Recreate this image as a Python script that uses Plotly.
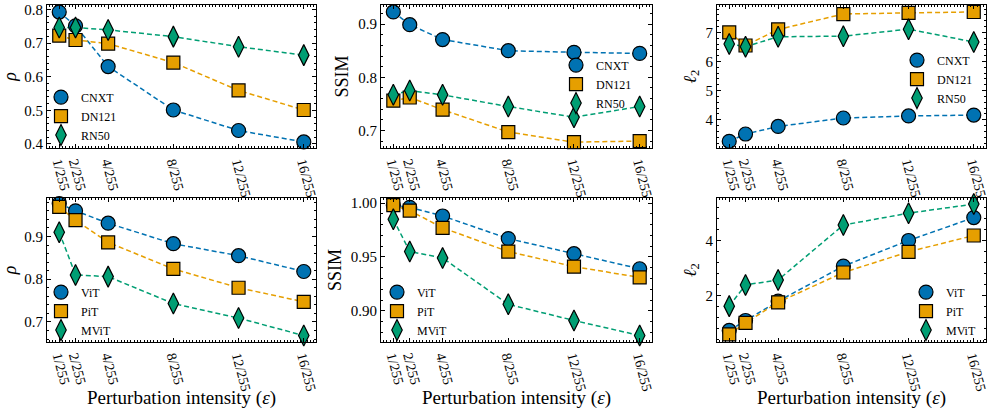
import plotly.graph_objects as go

# ---------------- data ----------------
eps = [1, 2, 4, 8, 12, 16]
eps_labels = ["1/255", "2/255", "4/255", "8/255", "12/255", "16/255"]

cnn_names = ["CNXT", "DN121", "RN50"]
vit_names = ["ViT", "PiT", "MViT"]

rho_cnxt = [0.792, 0.751, 0.630, 0.501, 0.440, 0.406]
rho_dn121 = [0.722, 0.709, 0.698, 0.642, 0.559, 0.501]
rho_rn50 = [0.746, 0.746, 0.739, 0.719, 0.689, 0.664]

ssim_cnxt = [0.923, 0.899, 0.871, 0.850, 0.847, 0.845]
ssim_dn121 = [0.756, 0.762, 0.739, 0.697, 0.678, 0.680]
ssim_rn50 = [0.767, 0.775, 0.767, 0.745, 0.725, 0.745]

l2_cnxt = [3.26, 3.51, 3.77, 4.06, 4.13, 4.16]
l2_dn121 = [7.00, 6.55, 7.10, 7.63, 7.67, 7.70]
l2_rn50 = [6.60, 6.51, 6.85, 6.87, 7.11, 6.67]

rho_vit = [0.977, 0.960, 0.931, 0.883, 0.855, 0.818]
rho_pit = [0.969, 0.938, 0.886, 0.824, 0.780, 0.747]
rho_mvit = [0.910, 0.810, 0.806, 0.743, 0.709, 0.668]

ssim_vit = [0.998, 0.996, 0.988, 0.967, 0.953, 0.939]
ssim_pit = [0.998, 0.993, 0.977, 0.955, 0.941, 0.931]
ssim_mvit = [0.985, 0.955, 0.949, 0.906, 0.891, 0.877]

l2_vit = [0.74, 1.10, 1.80, 3.07, 4.00, 4.83]
l2_pit = [0.60, 1.01, 1.76, 2.84, 3.59, 4.18]
l2_mvit = [1.62, 2.39, 2.57, 4.56, 4.99, 5.32]

# ---------------- style ----------------
W, H = 992, 417
colors = ["#0072B2", "#E69F00", "#009E73"]
symbols = ["circle", "square", "diamond-tall"]
msizes = [14, 13, 15]
FONT = "Liberation Serif, DejaVu Serif, serif"

col_px = [(47, 316), (381, 652), (717, 986)]
row_px = [(5, 148), (198, 342)]

panels = [
    # row, col, names, series, ytitle, yrange, ytickvals, ytickfmt, yminor, legend(marker_x, middle_row_y)
    (0, 0, cnn_names, [rho_cnxt, rho_dn121, rho_rn50], "<i>ρ</i>", [0.388, 0.813],
     [0.4, 0.5, 0.6, 0.7, 0.8], ".1f", 0.02, (61, 114)),
    (0, 1, cnn_names, [ssim_cnxt, ssim_dn121, ssim_rn50], "SSIM", [0.667, 0.936],
     [0.7, 0.8, 0.9], ".1f", 0.02, (576, 82)),
    (0, 2, cnn_names, [l2_cnxt, l2_dn121, l2_rn50], "<i>ℓ</i><sub>2</sub>", [3.03, 7.94],
     [4, 5, 6, 7], "d", 0.2, (917, 77)),
    (1, 0, vit_names, [rho_vit, rho_pit, rho_mvit], "<i>ρ</i>", [0.653, 0.990],
     [0.7, 0.8, 0.9], ".1f", 0.02, (61, 309)),
    (1, 1, vit_names, [ssim_vit, ssim_pit, ssim_mvit], "SSIM", [0.871, 1.0047],
     [0.90, 0.95, 1.00], ".2f", 0.01, (397, 309)),
    (1, 2, vit_names, [l2_vit, l2_pit, l2_mvit], "<i>ℓ</i><sub>2</sub>", [0.32, 5.54],
     [2, 4], "d", 0.4, (926, 309)),
]

LEG_FONT = 12
LEG_ROW = 1.3 * LEG_FONT + 3          # plotly legend row height (approx.)
LEG_TOP_OFFSET = 14 - 0.5 * (21 - LEG_ROW)  # legend top -> first row centre

fig = go.Figure()
layout = dict(
    template="none",
    width=W, height=H,
    margin=dict(l=0, r=0, t=0, b=0, pad=0),
    paper_bgcolor="white", plot_bgcolor="white",
    font=dict(family=FONT, size=14, color="black"),
    showlegend=True,
    annotations=[],
)

for i, (r, c, names, series, ytitle, yrange, ytv, yfmt, yminor, leg) in enumerate(panels):
    n = i + 1
    xa = "x" if n == 1 else f"x{n}"
    ya = "y" if n == 1 else f"y{n}"
    lg = "legend" if n == 1 else f"legend{n}"
    x0, x1 = col_px[c]
    y0, y1 = row_px[r]
    for k, (name, vals) in enumerate(zip(names, series)):
        fig.add_trace(go.Scatter(
            x=eps, y=vals, mode="lines", xaxis=xa, yaxis=ya,
            line=dict(color=colors[k], width=1.5, dash="5px,3px"),
            showlegend=False, hoverinfo="skip", cliponaxis=False))
    for k, (name, vals) in enumerate(zip(names, series)):
        fig.add_trace(go.Scatter(
            x=eps, y=vals, mode="markers", name=name, xaxis=xa, yaxis=ya,
            legend=lg, cliponaxis=False,
            marker=dict(color=colors[k], symbol=symbols[k], size=msizes[k],
                        line=dict(color="black", width=1.2))))
    axis_common = dict(showline=True, linecolor="black", linewidth=1, mirror="allticks",
                       ticks="inside", ticklen=4, tickwidth=1, tickcolor="black",
                       showgrid=False, zeroline=False, automargin=False,
                       tickfont=dict(family=FONT, size=14, color="black"))
    layout["xaxis" if n == 1 else f"xaxis{n}"] = dict(
        axis_common, domain=[x0 / W, x1 / W], anchor=ya, range=[0.25, 16.75],
        tickmode="array", tickvals=eps, ticktext=eps_labels, tickangle=75,
        minor=dict(ticks="inside", ticklen=2, tickcolor="black", dtick=0.2, tick0=0))
    layout["yaxis" if n == 1 else f"yaxis{n}"] = dict(
        axis_common, domain=[1 - y1 / H, 1 - y0 / H], anchor=xa, range=yrange,
        tickmode="array", tickvals=ytv, tickformat=yfmt,
        tickfont=dict(family=FONT, size=15, color="black"),
        minor=dict(ticks="inside", ticklen=2, tickcolor="black", dtick=yminor, tick0=0),
        title=dict(text=ytitle, font=dict(family=FONT, size=18), standoff=4))
    mx, my = leg
    first_row = my - LEG_ROW
    layout[lg] = dict(x=(mx - 20) / W, y=1 - (first_row - LEG_TOP_OFFSET) / H,
                      xanchor="left", yanchor="top",
                      bgcolor="rgba(0,0,0,0)", borderwidth=0, itemwidth=30,
                      font=dict(family=FONT, size=LEG_FONT), tracegroupgap=0,
                      itemclick=False)
    if r == 1:
        layout["annotations"].append(dict(
            text="Perturbation intensity (<i>ε</i>)", xref="paper", yref="paper",
            x=(x0 + x1) / 2 / W, y=1 - 398 / H, xanchor="center", yanchor="middle",
            showarrow=False, font=dict(family=FONT, size=19)))

fig.update_layout(**layout)
fig.write_html("out.html", config={"displayModeBar": False},
               post_script="document.body.style.margin='0';document.body.style.overflow='hidden';")
